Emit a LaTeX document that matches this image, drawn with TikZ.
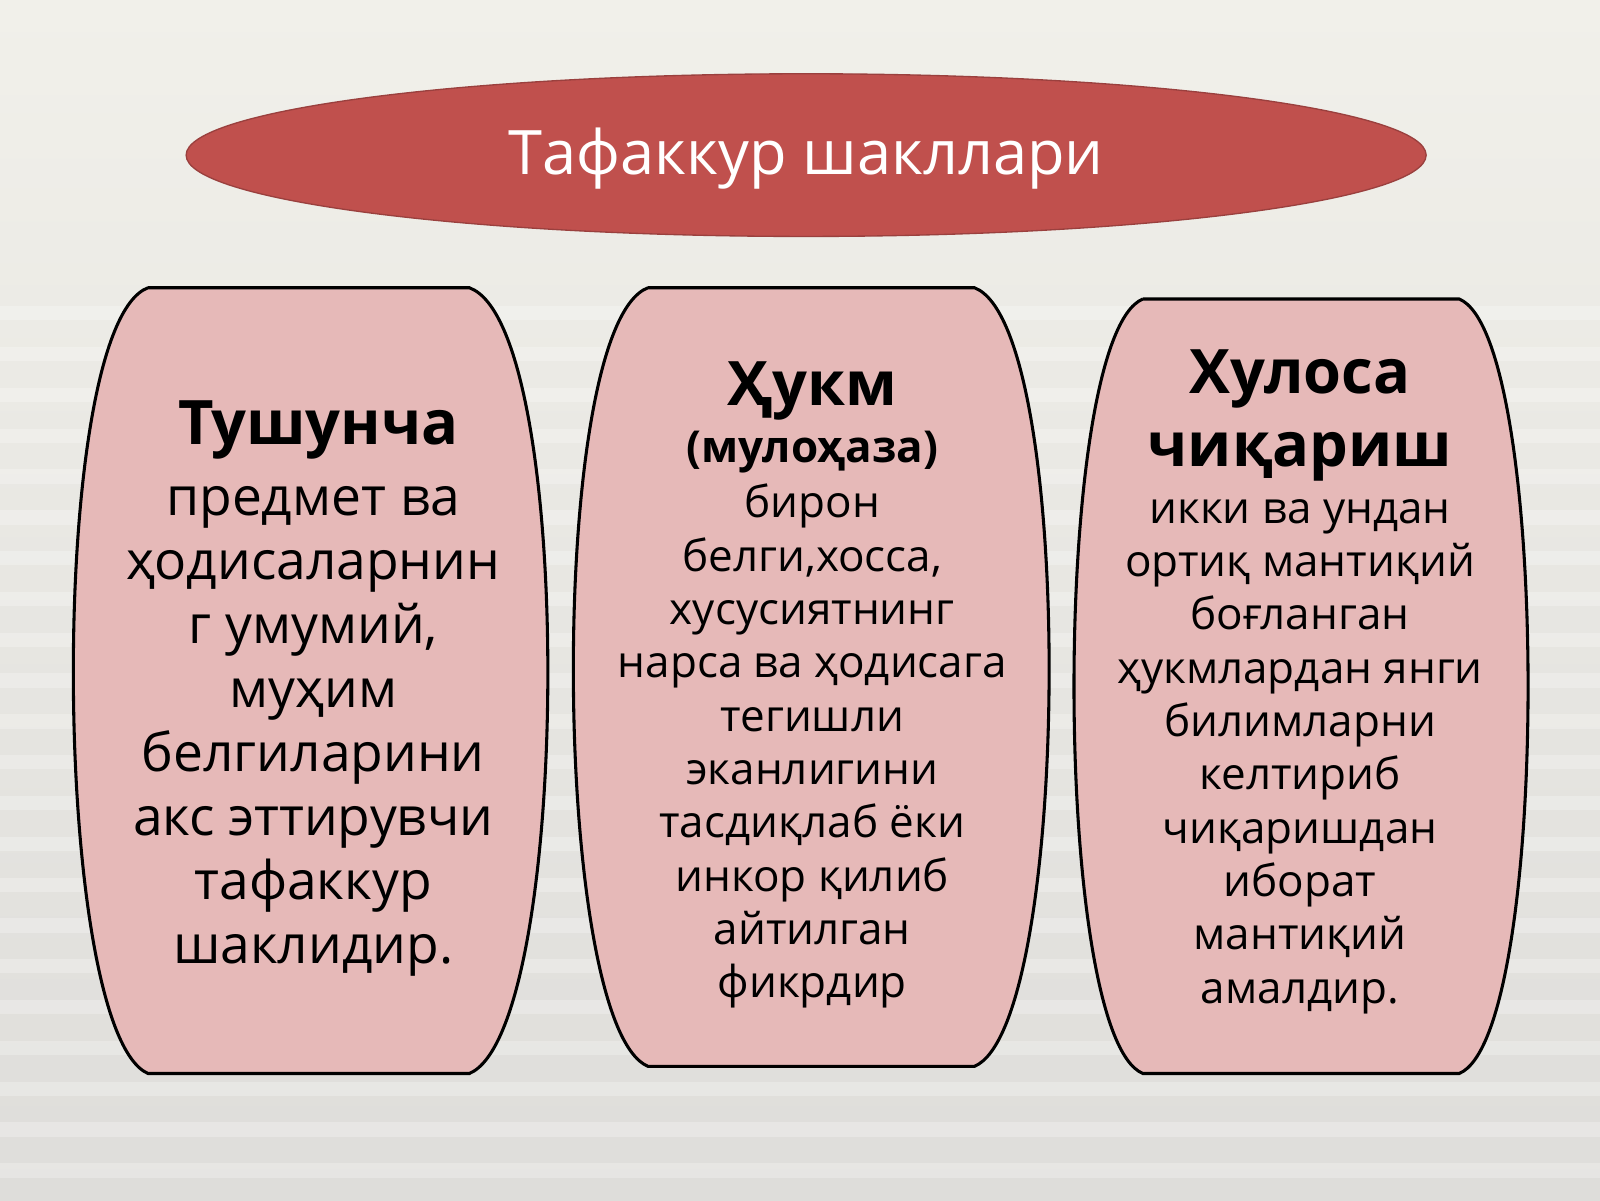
\documentclass[tikz,border=0pt]{standalone}
\usepackage{fontspec}
\setmainfont{Open Sans}
\usetikzlibrary{shapes.geometric}
\begin{document}
\begin{tikzpicture}[x=0.7653pt,y=-0.7653pt,
  barrel/.style={fill=boxpink,draw=black,line width=2.3pt},
  body/.style={align=center,text=black,inner sep=0pt,anchor=north},
  head/.style={body,font=\bfseries\fontsize{46}{55}\selectfont}]
\definecolor{boxpink}{HTML}{E6B9B8}
\definecolor{titlered}{HTML}{C0504D}
\definecolor{bgtop}{HTML}{F1F0EA}
\definecolor{bgbot}{HTML}{DEDDDA}
\useasboundingbox (0,0) rectangle (1568,1176);
\shade[top color=bgtop, bottom color=bgbot] (0,0) rectangle (1568,1176);
\foreach \yy in {300,340,...,1160} \fill[white,opacity=0.25] (0,\yy) rectangle (1568,\yy+14);
% title
\node[ellipse,fill=titlered,draw=titlered!80!black,line width=1pt,minimum width=930pt,minimum height=122pt,inner sep=0pt] (t) at (790,152) {};
\node[text=white,font=\fontsize{46}{52}\selectfont] (tt) at (790,155) {Тафаккур шакллари};
% barrels
\draw[barrel] (145,282) -- (460,282) .. controls (565,320) and (560,1010) .. (460,1052) -- (145,1052) .. controls (50,1010) and (45,320) .. (145,282);
\draw[barrel] (635,282) -- (955,282) .. controls (1055,320) and (1050,1005) .. (955,1045) -- (635,1045) .. controls (540,1005) and (535,320) .. (635,282);
\draw[barrel] (1120,293) -- (1430,293) .. controls (1520,330) and (1520,1015) .. (1430,1052) -- (1120,1052) .. controls (1030,1015) and (1030,330) .. (1120,293);
% texts
\node[head] (ah) at (312,392) {Тушунча};
\node[body,font=\fontsize{40}{48}\selectfont] (a) at (307,476) {предмет ва\\ ҳодисаларнин\\ г умумий,\\ муҳим\\ белгиларини\\ акс эттирувчи\\ тафаккур\\ шаклидир.};
\node[head] (bh) at (796,354) {Ҳукм};
\node[body,font=\bfseries\fontsize{33}{40}\selectfont] (bs) at (796,422) {(мулоҳаза)};
\node[body,font=\fontsize{33}{40}\selectfont] (b) at (796,474) {бирон\\ белги,хосса,\\ хусусиятнинг\\ нарса ва ҳодисага\\ тегишли\\ эканлигини\\ тасдиқлаб ёки\\ инкор қилиб\\ айтилган\\ фикрдир};
\node[head] (ch) at (1274,342) {Хулоса\\ чиқариш};
\node[body,font=\fontsize{33}{40}\selectfont] (c) at (1274,489) {икки ва ундан\\ ортиқ мантиқий\\ боғланган\\ ҳукмлардан янги\\ билимларни\\ келтириб\\ чиқаришдан\\ иборат\\ мантиқий\\ амалдир.};
\end{tikzpicture}
\end{document}
